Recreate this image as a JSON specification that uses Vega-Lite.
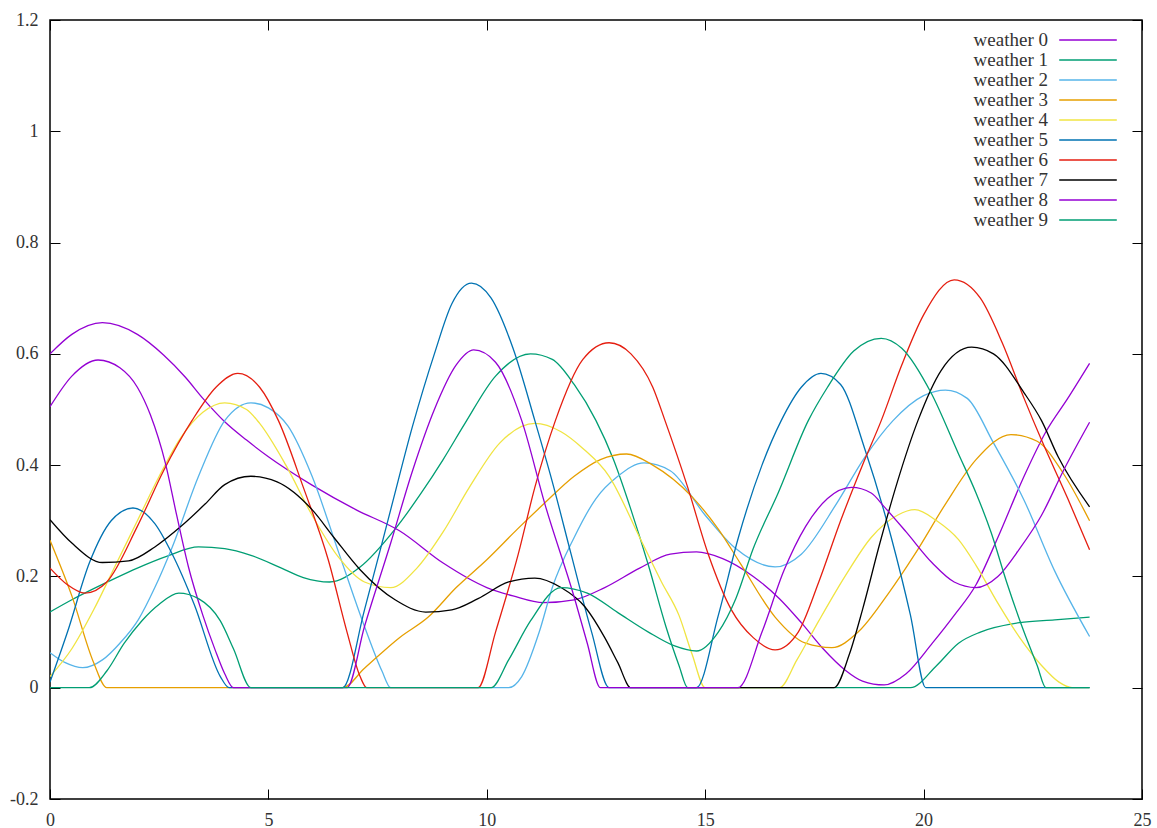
{
"$schema": "https://vega.github.io/schema/vega-lite/v6.json",
"width": 1092, "height": 779,
"autosize": {"type": "none"},
"padding": {"left": 50, "top": 20, "right": 15, "bottom": 29},
"background": "white",
"config": {
  "view": {"stroke": "#000", "strokeWidth": 1.5},
  "font": "Liberation Serif",
  "axis": {"domain": false, "grid": false, "ticks": true, "tickColor": "#000", "tickSize": -10, "tickWidth": 1, "labelFont": "Liberation Serif", "labelFontSize": 18, "labelColor": "#333", "title": null}
},
"datasets": {
"d": [
{"s":"weather 0","x":0,"y":0.6},{"s":"weather 0","x":0.5,"y":0.635},{"s":"weather 0","x":1.2,"y":0.656},{"s":"weather 0","x":2,"y":0.635},{"s":"weather 0","x":2.6,"y":0.598},{"s":"weather 0","x":3.1,"y":0.558},{"s":"weather 0","x":3.5,"y":0.52},{"s":"weather 0","x":4,"y":0.478},{"s":"weather 0","x":4.5,"y":0.445},{"s":"weather 0","x":5,"y":0.415},{"s":"weather 0","x":6,"y":0.364},{"s":"weather 0","x":7,"y":0.32},{"s":"weather 0","x":8,"y":0.282},{"s":"weather 0","x":9,"y":0.224},{"s":"weather 0","x":10,"y":0.18},{"s":"weather 0","x":10.6,"y":0.165},{"s":"weather 0","x":11.3,"y":0.153},{"s":"weather 0","x":12,"y":0.158},{"s":"weather 0","x":12.7,"y":0.18},{"s":"weather 0","x":13.5,"y":0.215},{"s":"weather 0","x":14.2,"y":0.24},{"s":"weather 0","x":14.8,"y":0.244},{"s":"weather 0","x":15.4,"y":0.232},{"s":"weather 0","x":16.1,"y":0.2},{"s":"weather 0","x":16.7,"y":0.16},{"s":"weather 0","x":17.2,"y":0.117},{"s":"weather 0","x":17.7,"y":0.07},{"s":"weather 0","x":18.2,"y":0.032},{"s":"weather 0","x":18.6,"y":0.012},{"s":"weather 0","x":19.1,"y":0.005},{"s":"weather 0","x":19.6,"y":0.025},{"s":"weather 0","x":20.2,"y":0.08},{"s":"weather 0","x":20.7,"y":0.13},{"s":"weather 0","x":21.2,"y":0.185},{"s":"weather 0","x":21.7,"y":0.27},{"s":"weather 0","x":22.3,"y":0.38},{"s":"weather 0","x":22.8,"y":0.46},{"s":"weather 0","x":23.3,"y":0.52},{"s":"weather 0","x":23.8,"y":0.583},

{"s":"weather 1","x":0,"y":0.136},{"s":"weather 1","x":0.5,"y":0.158},{"s":"weather 1","x":1,"y":0.178},{"s":"weather 1","x":1.5,"y":0.197},{"s":"weather 1","x":2,"y":0.215},{"s":"weather 1","x":2.7,"y":0.237},{"s":"weather 1","x":3.4,"y":0.253},{"s":"weather 1","x":4,"y":0.25},{"s":"weather 1","x":4.6,"y":0.238},{"s":"weather 1","x":5.3,"y":0.215},{"s":"weather 1","x":5.8,"y":0.198},{"s":"weather 1","x":6.4,"y":0.19},{"s":"weather 1","x":7.1,"y":0.217},{"s":"weather 1","x":7.9,"y":0.285},{"s":"weather 1","x":8.5,"y":0.35},{"s":"weather 1","x":9,"y":0.41},{"s":"weather 1","x":9.5,"y":0.475},{"s":"weather 1","x":10.2,"y":0.56},{"s":"weather 1","x":11,"y":0.6},{"s":"weather 1","x":11.5,"y":0.59},{"s":"weather 1","x":12,"y":0.545},{"s":"weather 1","x":12.5,"y":0.48},{"s":"weather 1","x":12.9,"y":0.41},{"s":"weather 1","x":13.3,"y":0.32},{"s":"weather 1","x":13.7,"y":0.22},{"s":"weather 1","x":14.1,"y":0.11},{"s":"weather 1","x":14.4,"y":0.04},{"s":"weather 1","x":14.6,"y":0},{"s":"weather 1","x":19.7,"y":0},{"s":"weather 1","x":20.3,"y":0.04},{"s":"weather 1","x":20.8,"y":0.08},{"s":"weather 1","x":21.3,"y":0.1},{"s":"weather 1","x":22.2,"y":0.117},{"s":"weather 1","x":23,"y":0.122},{"s":"weather 1","x":23.8,"y":0.127},

{"s":"weather 2","x":0,"y":0.063},{"s":"weather 2","x":0.35,"y":0.045},{"s":"weather 2","x":0.75,"y":0.036},{"s":"weather 2","x":1.2,"y":0.05},{"s":"weather 2","x":1.6,"y":0.08},{"s":"weather 2","x":2.02,"y":0.122},{"s":"weather 2","x":2.4,"y":0.18},{"s":"weather 2","x":2.8,"y":0.253},{"s":"weather 2","x":3.4,"y":0.38},{"s":"weather 2","x":4,"y":0.48},{"s":"weather 2","x":4.6,"y":0.512},{"s":"weather 2","x":5,"y":0.503},{"s":"weather 2","x":5.45,"y":0.47},{"s":"weather 2","x":6,"y":0.38},{"s":"weather 2","x":6.6,"y":0.245},{"s":"weather 2","x":7.2,"y":0.11},{"s":"weather 2","x":7.6,"y":0.03},{"s":"weather 2","x":7.8,"y":0},{"s":"weather 2","x":10.5,"y":0},{"s":"weather 2","x":10.8,"y":0.02},{"s":"weather 2","x":11.2,"y":0.1},{"s":"weather 2","x":11.5,"y":0.18},{"s":"weather 2","x":12,"y":0.27},{"s":"weather 2","x":12.5,"y":0.34},{"s":"weather 2","x":13,"y":0.38},{"s":"weather 2","x":13.6,"y":0.404},{"s":"weather 2","x":14.2,"y":0.39},{"s":"weather 2","x":15,"y":0.31},{"s":"weather 2","x":15.7,"y":0.25},{"s":"weather 2","x":16.6,"y":0.217},{"s":"weather 2","x":17.2,"y":0.24},{"s":"weather 2","x":18,"y":0.33},{"s":"weather 2","x":18.66,"y":0.415},{"s":"weather 2","x":19.3,"y":0.48},{"s":"weather 2","x":20,"y":0.525},{"s":"weather 2","x":20.5,"y":0.535},{"s":"weather 2","x":21,"y":0.52},{"s":"weather 2","x":21.6,"y":0.44},{"s":"weather 2","x":22.3,"y":0.337},{"s":"weather 2","x":23,"y":0.21},{"s":"weather 2","x":23.8,"y":0.092},

{"s":"weather 3","x":0,"y":0.265},{"s":"weather 3","x":0.5,"y":0.165},{"s":"weather 3","x":1,"y":0.045},{"s":"weather 3","x":1.3,"y":0},{"s":"weather 3","x":6.7,"y":0},{"s":"weather 3","x":7.2,"y":0.035},{"s":"weather 3","x":8,"y":0.09},{"s":"weather 3","x":8.66,"y":0.127},{"s":"weather 3","x":9.3,"y":0.18},{"s":"weather 3","x":10,"y":0.23},{"s":"weather 3","x":10.7,"y":0.285},{"s":"weather 3","x":11.3,"y":0.33},{"s":"weather 3","x":12,"y":0.38},{"s":"weather 3","x":12.6,"y":0.41},{"s":"weather 3","x":13.2,"y":0.42},{"s":"weather 3","x":13.8,"y":0.4},{"s":"weather 3","x":14.7,"y":0.343},{"s":"weather 3","x":15.3,"y":0.285},{"s":"weather 3","x":15.8,"y":0.224},{"s":"weather 3","x":16.6,"y":0.127},{"s":"weather 3","x":17.3,"y":0.08},{"s":"weather 3","x":17.9,"y":0.072},{"s":"weather 3","x":18.5,"y":0.1},{"s":"weather 3","x":19.2,"y":0.17},{"s":"weather 3","x":19.8,"y":0.24},{"s":"weather 3","x":20.5,"y":0.33},{"s":"weather 3","x":21.2,"y":0.41},{"s":"weather 3","x":22,"y":0.455},{"s":"weather 3","x":22.6,"y":0.443},{"s":"weather 3","x":23.2,"y":0.385},{"s":"weather 3","x":23.8,"y":0.3},

{"s":"weather 4","x":0,"y":0.02},{"s":"weather 4","x":0.5,"y":0.07},{"s":"weather 4","x":1,"y":0.14},{"s":"weather 4","x":1.5,"y":0.22},{"s":"weather 4","x":2,"y":0.3},{"s":"weather 4","x":2.5,"y":0.38},{"s":"weather 4","x":3,"y":0.45},{"s":"weather 4","x":3.5,"y":0.495},{"s":"weather 4","x":4,"y":0.512},{"s":"weather 4","x":4.5,"y":0.5},{"s":"weather 4","x":4.8,"y":0.475},{"s":"weather 4","x":5.4,"y":0.4},{"s":"weather 4","x":6,"y":0.31},{"s":"weather 4","x":6.6,"y":0.235},{"s":"weather 4","x":7.2,"y":0.19},{"s":"weather 4","x":7.8,"y":0.18},{"s":"weather 4","x":8.4,"y":0.215},{"s":"weather 4","x":9,"y":0.28},{"s":"weather 4","x":9.6,"y":0.36},{"s":"weather 4","x":10.3,"y":0.44},{"s":"weather 4","x":11.1,"y":0.475},{"s":"weather 4","x":11.7,"y":0.46},{"s":"weather 4","x":12.2,"y":0.43},{"s":"weather 4","x":12.8,"y":0.38},{"s":"weather 4","x":13.5,"y":0.27},{"s":"weather 4","x":14,"y":0.19},{"s":"weather 4","x":14.4,"y":0.13},{"s":"weather 4","x":14.7,"y":0.06},{"s":"weather 4","x":15,"y":0},{"s":"weather 4","x":16.7,"y":0},{"s":"weather 4","x":17.1,"y":0.05},{"s":"weather 4","x":17.6,"y":0.12},{"s":"weather 4","x":18.2,"y":0.2},{"s":"weather 4","x":18.8,"y":0.27},{"s":"weather 4","x":19.4,"y":0.31},{"s":"weather 4","x":19.8,"y":0.32},{"s":"weather 4","x":20.3,"y":0.3},{"s":"weather 4","x":20.8,"y":0.266},{"s":"weather 4","x":21.2,"y":0.22},{"s":"weather 4","x":21.7,"y":0.152},{"s":"weather 4","x":22.2,"y":0.09},{"s":"weather 4","x":22.7,"y":0.04},{"s":"weather 4","x":23.1,"y":0.01},{"s":"weather 4","x":23.4,"y":0},{"s":"weather 4","x":23.8,"y":0},

{"s":"weather 5","x":0,"y":0.01},{"s":"weather 5","x":0.4,"y":0.1},{"s":"weather 5","x":0.9,"y":0.224},{"s":"weather 5","x":1.4,"y":0.3},{"s":"weather 5","x":1.9,"y":0.323},{"s":"weather 5","x":2.4,"y":0.295},{"s":"weather 5","x":2.8,"y":0.24},{"s":"weather 5","x":3.3,"y":0.15},{"s":"weather 5","x":3.9,"y":0.02},{"s":"weather 5","x":4.1,"y":0},{"s":"weather 5","x":6.7,"y":0},{"s":"weather 5","x":7.2,"y":0.14},{"s":"weather 5","x":7.8,"y":0.32},{"s":"weather 5","x":8.3,"y":0.47},{"s":"weather 5","x":8.8,"y":0.6},{"s":"weather 5","x":9.2,"y":0.69},{"s":"weather 5","x":9.65,"y":0.727},{"s":"weather 5","x":10.1,"y":0.7},{"s":"weather 5","x":10.6,"y":0.61},{"s":"weather 5","x":11.1,"y":0.48},{"s":"weather 5","x":11.5,"y":0.37},{"s":"weather 5","x":11.93,"y":0.24},{"s":"weather 5","x":12.4,"y":0.1},{"s":"weather 5","x":12.8,"y":0},{"s":"weather 5","x":14.8,"y":0},{"s":"weather 5","x":15.3,"y":0.13},{"s":"weather 5","x":15.76,"y":0.27},{"s":"weather 5","x":16.3,"y":0.4},{"s":"weather 5","x":16.74,"y":0.48},{"s":"weather 5","x":17.2,"y":0.54},{"s":"weather 5","x":17.65,"y":0.565},{"s":"weather 5","x":18.1,"y":0.545},{"s":"weather 5","x":18.65,"y":0.43},{"s":"weather 5","x":19.26,"y":0.27},{"s":"weather 5","x":19.7,"y":0.13},{"s":"weather 5","x":20.05,"y":0},{"s":"weather 5","x":23.8,"y":0},

{"s":"weather 6","x":0,"y":0.215},{"s":"weather 6","x":0.4,"y":0.185},{"s":"weather 6","x":0.8,"y":0.17},{"s":"weather 6","x":1.3,"y":0.19},{"s":"weather 6","x":2,"y":0.29},{"s":"weather 6","x":2.6,"y":0.39},{"s":"weather 6","x":3.25,"y":0.48},{"s":"weather 6","x":3.8,"y":0.54},{"s":"weather 6","x":4.3,"y":0.565},{"s":"weather 6","x":4.8,"y":0.54},{"s":"weather 6","x":5.23,"y":0.48},{"s":"weather 6","x":5.8,"y":0.36},{"s":"weather 6","x":6.37,"y":0.23},{"s":"weather 6","x":6.8,"y":0.1},{"s":"weather 6","x":7.1,"y":0.02},{"s":"weather 6","x":7.25,"y":0},{"s":"weather 6","x":9.8,"y":0},{"s":"weather 6","x":10.2,"y":0.1},{"s":"weather 6","x":10.72,"y":0.24},{"s":"weather 6","x":11.1,"y":0.36},{"s":"weather 6","x":11.57,"y":0.48},{"s":"weather 6","x":12.2,"y":0.59},{"s":"weather 6","x":12.8,"y":0.62},{"s":"weather 6","x":13.3,"y":0.6},{"s":"weather 6","x":13.8,"y":0.54},{"s":"weather 6","x":14.08,"y":0.48},{"s":"weather 6","x":14.6,"y":0.36},{"s":"weather 6","x":15.07,"y":0.24},{"s":"weather 6","x":15.6,"y":0.14},{"s":"weather 6","x":16.1,"y":0.09},{"s":"weather 6","x":16.6,"y":0.068},{"s":"weather 6","x":17.13,"y":0.1},{"s":"weather 6","x":17.6,"y":0.19},{"s":"weather 6","x":18.1,"y":0.3},{"s":"weather 6","x":18.6,"y":0.4},{"s":"weather 6","x":19.03,"y":0.48},{"s":"weather 6","x":19.5,"y":0.58},{"s":"weather 6","x":20,"y":0.67},{"s":"weather 6","x":20.7,"y":0.733},{"s":"weather 6","x":21.3,"y":0.7},{"s":"weather 6","x":21.8,"y":0.62},{"s":"weather 6","x":22.3,"y":0.52},{"s":"weather 6","x":22.7,"y":0.445},{"s":"weather 6","x":23.3,"y":0.34},{"s":"weather 6","x":23.8,"y":0.248},

{"s":"weather 7","x":0,"y":0.302},{"s":"weather 7","x":0.5,"y":0.26},{"s":"weather 7","x":1.2,"y":0.225},{"s":"weather 7","x":1.8,"y":0.228},{"s":"weather 7","x":2.4,"y":0.253},{"s":"weather 7","x":3,"y":0.29},{"s":"weather 7","x":3.55,"y":0.33},{"s":"weather 7","x":4,"y":0.365},{"s":"weather 7","x":4.6,"y":0.38},{"s":"weather 7","x":5.2,"y":0.37},{"s":"weather 7","x":6,"y":0.32},{"s":"weather 7","x":6.5,"y":0.27},{"s":"weather 7","x":7.1,"y":0.212},{"s":"weather 7","x":7.9,"y":0.158},{"s":"weather 7","x":8.6,"y":0.136},{"s":"weather 7","x":9.2,"y":0.14},{"s":"weather 7","x":9.8,"y":0.16},{"s":"weather 7","x":10.5,"y":0.19},{"s":"weather 7","x":11.1,"y":0.197},{"s":"weather 7","x":11.7,"y":0.18},{"s":"weather 7","x":12.25,"y":0.145},{"s":"weather 7","x":12.7,"y":0.09},{"s":"weather 7","x":13,"y":0.045},{"s":"weather 7","x":13.3,"y":0},{"s":"weather 7","x":17.95,"y":0},{"s":"weather 7","x":18.3,"y":0.06},{"s":"weather 7","x":18.6,"y":0.14},{"s":"weather 7","x":19,"y":0.26},{"s":"weather 7","x":19.4,"y":0.37},{"s":"weather 7","x":19.87,"y":0.48},{"s":"weather 7","x":20.4,"y":0.57},{"s":"weather 7","x":21.1,"y":0.612},{"s":"weather 7","x":21.6,"y":0.6},{"s":"weather 7","x":22.3,"y":0.53},{"s":"weather 7","x":22.7,"y":0.48},{"s":"weather 7","x":23.08,"y":0.415},{"s":"weather 7","x":23.8,"y":0.325},

{"s":"weather 8","x":0,"y":0.505},{"s":"weather 8","x":0.5,"y":0.56},{"s":"weather 8","x":1.1,"y":0.589},{"s":"weather 8","x":1.6,"y":0.575},{"s":"weather 8","x":2,"y":0.54},{"s":"weather 8","x":2.3,"y":0.49},{"s":"weather 8","x":2.64,"y":0.404},{"s":"weather 8","x":2.9,"y":0.31},{"s":"weather 8","x":3.17,"y":0.217},{"s":"weather 8","x":3.5,"y":0.13},{"s":"weather 8","x":3.78,"y":0.068},{"s":"weather 8","x":4,"y":0.025},{"s":"weather 8","x":4.2,"y":0},{"s":"weather 8","x":6.8,"y":0},{"s":"weather 8","x":7.2,"y":0.11},{"s":"weather 8","x":7.8,"y":0.26},{"s":"weather 8","x":8.3,"y":0.39},{"s":"weather 8","x":8.8,"y":0.5},{"s":"weather 8","x":9.3,"y":0.58},{"s":"weather 8","x":9.7,"y":0.607},{"s":"weather 8","x":10.2,"y":0.585},{"s":"weather 8","x":10.8,"y":0.48},{"s":"weather 8","x":11.33,"y":0.33},{"s":"weather 8","x":12,"y":0.163},{"s":"weather 8","x":12.3,"y":0.08},{"s":"weather 8","x":12.6,"y":0},{"s":"weather 8","x":15.75,"y":0},{"s":"weather 8","x":16.3,"y":0.1},{"s":"weather 8","x":16.8,"y":0.21},{"s":"weather 8","x":17.3,"y":0.29},{"s":"weather 8","x":17.8,"y":0.34},{"s":"weather 8","x":18.35,"y":0.36},{"s":"weather 8","x":18.8,"y":0.35},{"s":"weather 8","x":19.1,"y":0.325},{"s":"weather 8","x":19.6,"y":0.28},{"s":"weather 8","x":20.2,"y":0.224},{"s":"weather 8","x":20.7,"y":0.19},{"s":"weather 8","x":21.2,"y":0.18},{"s":"weather 8","x":21.7,"y":0.2},{"s":"weather 8","x":22.2,"y":0.25},{"s":"weather 8","x":22.7,"y":0.31},{"s":"weather 8","x":23.2,"y":0.39},{"s":"weather 8","x":23.8,"y":0.477},

{"s":"weather 9","x":0,"y":0},{"s":"weather 9","x":0.9,"y":0},{"s":"weather 9","x":1.3,"y":0.03},{"s":"weather 9","x":1.7,"y":0.08},{"s":"weather 9","x":2.1,"y":0.12},{"s":"weather 9","x":2.5,"y":0.15},{"s":"weather 9","x":2.95,"y":0.17},{"s":"weather 9","x":3.4,"y":0.16},{"s":"weather 9","x":3.9,"y":0.12},{"s":"weather 9","x":4.2,"y":0.07},{"s":"weather 9","x":4.6,"y":0},{"s":"weather 9","x":10.1,"y":0},{"s":"weather 9","x":10.5,"y":0.05},{"s":"weather 9","x":11,"y":0.12},{"s":"weather 9","x":11.7,"y":0.18},{"s":"weather 9","x":12.3,"y":0.17},{"s":"weather 9","x":13,"y":0.135},{"s":"weather 9","x":13.7,"y":0.1},{"s":"weather 9","x":14.3,"y":0.075},{"s":"weather 9","x":14.8,"y":0.066},{"s":"weather 9","x":15.3,"y":0.1},{"s":"weather 9","x":15.7,"y":0.16},{"s":"weather 9","x":16.1,"y":0.25},{"s":"weather 9","x":16.67,"y":0.35},{"s":"weather 9","x":17.36,"y":0.48},{"s":"weather 9","x":17.8,"y":0.54},{"s":"weather 9","x":18.4,"y":0.605},{"s":"weather 9","x":19.03,"y":0.628},{"s":"weather 9","x":19.5,"y":0.61},{"s":"weather 9","x":20.17,"y":0.53},{"s":"weather 9","x":20.8,"y":0.42},{"s":"weather 9","x":21.2,"y":0.35},{"s":"weather 9","x":21.55,"y":0.278},{"s":"weather 9","x":21.9,"y":0.19},{"s":"weather 9","x":22.3,"y":0.1},{"s":"weather 9","x":22.6,"y":0.04},{"s":"weather 9","x":22.8,"y":0},{"s":"weather 9","x":23.8,"y":0}
]
},
"data": {"name": "d"},
"layer": [
  {
    "mark": {"type": "line", "interpolate": "monotone", "strokeWidth": 1.3, "clip": true},
    "encoding": {
      "x": {"field": "x", "type": "quantitative", "scale": {"domain": [0, 25], "nice": false, "zero": false},
            "axis": {"orient": "bottom", "values": [0, 5, 10, 15, 20, 25], "labelPadding": 22, "labelFlush": false}},
      "y": {"field": "y", "type": "quantitative", "scale": {"domain": [-0.2, 1.2], "nice": false, "zero": false},
            "axis": {"orient": "left", "values": [-0.2, 0, 0.2, 0.4, 0.6, 0.8, 1, 1.2], "labelExpr": "'' + datum.value", "labelPadding": 22, "labelFlush": false}},
      "color": {"field": "s", "type": "nominal",
        "scale": {"domain": ["weather 0","weather 1","weather 2","weather 3","weather 4","weather 5","weather 6","weather 7","weather 8","weather 9"],
                  "range": ["#9400d3","#009e73","#56b4e9","#e69f00","#f0e442","#0072b2","#e51e10","#000000","#9400d3","#009e73"]},
        "legend": {"orient": "none", "legendX": 1008, "legendY": 10, "title": null, "symbolType": "M-3.2,0H3.2", "symbolSize": 324, "symbolStrokeWidth": 1.4,
                   "symbolOffset": 20, "labelAlign": "right", "labelOffset": -50, "labelFont": "Liberation Serif", "labelFontSize": 19, "labelColor": "#333",
                   "rowPadding": 0, "padding": 0, "labelLimit": 200}}
    }
  },
  {
    "mark": {"type": "line", "opacity": 0},
    "encoding": {
      "x": {"field": "x", "type": "quantitative", "axis": {"orient": "top", "values": [0, 5, 10, 15, 20, 25], "labels": false}},
      "y": {"field": "y", "type": "quantitative", "axis": {"orient": "right", "values": [-0.2, 0, 0.2, 0.4, 0.6, 0.8, 1, 1.2], "labels": false}}
    }
  }
],
"resolve": {"axis": {"x": "independent", "y": "independent"}}
}
